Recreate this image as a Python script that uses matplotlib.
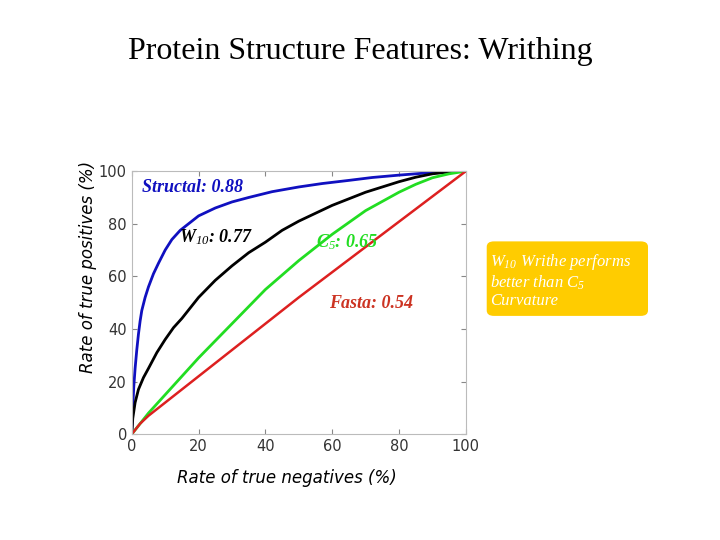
import matplotlib
matplotlib.use("Agg")
import matplotlib.pyplot as plt
from matplotlib.patches import FancyBboxPatch

plt.rcParams["mathtext.fontset"] = "custom"
plt.rcParams["mathtext.rm"] = "Liberation Serif:italic:bold"
plt.rcParams["mathtext.it"] = "Liberation Serif:italic:bold"
plt.rcParams["mathtext.bf"] = "Liberation Serif:italic:bold"

blue_x = [0, 0.3, 0.6, 1, 1.5, 2, 2.5, 3, 4, 5, 6.5, 8, 10, 12, 14.5, 17, 20, 25, 30, 35, 42, 50, 57, 65, 72, 80, 85, 90, 95, 100]
blue_y = [0, 10, 18, 25, 32, 38, 43, 47, 52, 56, 61, 65, 70, 74, 77.5, 80, 83, 86, 88.3, 90, 92.2, 94, 95.3, 96.5, 97.6, 98.5, 99, 99.5, 99.8, 100]
black_x = [0, 0.3, 1, 2, 3.5, 5, 7.5, 10, 12.5, 15, 17.5, 20, 25, 30, 35, 40, 45, 50, 55, 60, 65, 70, 75, 80, 85, 90, 95, 100]
black_y = [0, 6, 12, 17, 21.5, 25, 31, 36, 40.5, 44, 48, 52, 58.5, 64, 69, 73, 77.5, 81, 84, 87, 89.5, 92, 94, 96, 97.7, 99, 99.7, 100]
green_x = [0, 2.5, 5, 7.5, 10, 15, 20, 25, 30, 35, 40, 45, 50, 55, 60, 65, 70, 75, 80, 85, 90, 95, 100]
green_y = [0, 4, 8, 11.5, 15, 22, 29, 35.5, 42, 48.5, 55, 60.5, 66, 71, 76, 80.5, 85, 88.5, 92, 95, 97.5, 99, 100]
red_x = [0, 2.5, 5, 10, 20, 50, 100]
red_y = [0, 4, 7, 12, 22, 52, 100]

fig = plt.figure(figsize=(7.2, 5.4), dpi=100)
ax = fig.add_axes([0.183, 0.196, 0.464, 0.487])
ax.plot(blue_x, blue_y, color="#1010c0", lw=2)
ax.plot(black_x, black_y, color="black", lw=2)
ax.plot(green_x, green_y, color="#22dd22", lw=2)
ax.plot(red_x, red_y, color="#dd2020", lw=1.8)
ax.set_xlim(0, 100)
ax.set_ylim(0, 100)
ax.set_xticks([0, 20, 40, 60, 80, 100])
ax.set_yticks([0, 20, 40, 60, 80, 100])
ax.tick_params(labelsize=10.5, top=True, right=True, direction="in", colors="#888888", labelcolor="#333333")
for s in ax.spines.values():
    s.set_color("#bbbbbb")

serif = "Liberation Serif"
kw = dict(fontsize=13, fontweight="bold", style="italic", family=serif)
ax.text(3, 92, "Structal: 0.88", color="#1010c0", **kw)
ax.text(14, 73, r"$W_{10}$: 0.77", color="black", **kw)
ax.text(55, 71, r"$C_5$: 0.65", color="#22dd22", **kw)
ax.text(59, 48, "Fasta: 0.54", color="#cc3322", **kw)

fig.text(0.5, 0.905, "Protein Structure Features: Writhing", ha="center", va="center", fontsize=23, family=serif)
fig.text(0.122, 0.505, "Rate of true positives (%)", rotation=90, ha="center", va="center", fontsize=12, style="italic")
fig.text(0.398, 0.115, "Rate of true negatives (%)", ha="center", va="center", fontsize=12, style="italic")

box = FancyBboxPatch((0.676, 0.415), 0.224, 0.138, boxstyle="round,pad=0,rounding_size=0.01",
                     transform=fig.transFigure, facecolor="#ffcc00", edgecolor="none")
fig.patches.append(box)
plt.rcParams["mathtext.rm"] = "Liberation Serif:italic"
fig.text(0.681, 0.48, "W$_{10}$ Writhe performs\nbetter than C$_5$\nCurvature", ha="left", va="center",
         fontsize=12, color="white", linespacing=1.1, family=serif, style="italic")

fig.savefig("out.png", dpi=100)
